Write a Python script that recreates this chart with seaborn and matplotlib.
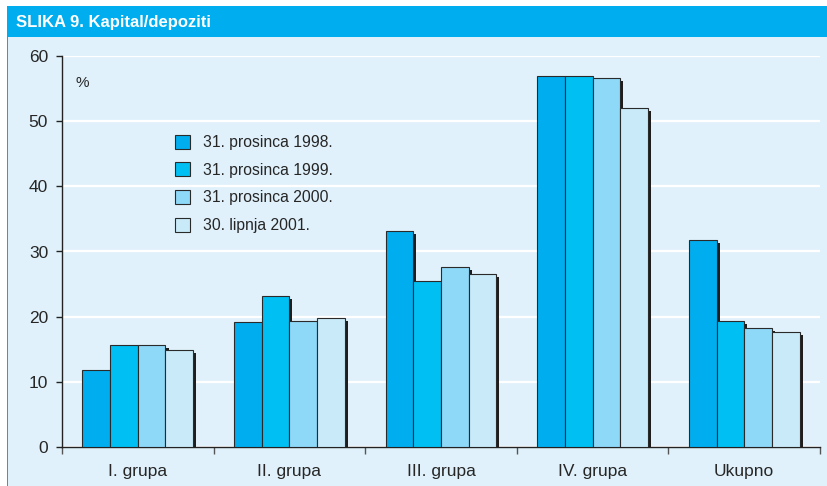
import pandas as pd
import seaborn as sns
import matplotlib.pyplot as plt
import matplotlib.patheffects as pe
from matplotlib.patches import Rectangle

# Data
groups = ['I. grupa', 'II. grupa', 'III. grupa', 'IV. grupa', 'Ukupno']
periods = ['31. prosinca 1998.', '31. prosinca 1999.', '31. prosinca 2000.', '30. lipnja 2001.']
v1998 = [11.8, 19.2, 33.2, 56.9, 31.8]
v1999 = [15.6, 23.2, 25.5, 56.9, 19.4]
v2000 = [15.7, 19.4, 27.6, 56.7, 18.3]
v2001 = [14.9, 19.8, 26.5, 52.0, 17.6]
colors = ['#00aeef', '#00c0f3', '#8ed8f8', '#c8eaf9']

df = pd.DataFrame({
    'grupa': groups * 4,
    'period': [p for p in periods for _ in groups],
    'value': v1998 + v1999 + v2000 + v2001,
})

bg = '#e0f1fb'
sns.set_style('white')
plt.rcParams['font.family'] = ['Liberation Sans', 'DejaVu Sans']

fig = plt.figure(figsize=(8.28, 4.86), dpi=100, facecolor='white')
# panel background + title bar
fig.patches.append(Rectangle((7 / 828, 0), 1, 1 - 37 / 486, transform=fig.transFigure,
                             facecolor=bg, edgecolor='none', zorder=-2))
fig.patches.append(Rectangle((7 / 828, 0), 0.0015, 1 - 37 / 486, transform=fig.transFigure,
                             facecolor='#00aeef', edgecolor='none', zorder=-2))
fig.patches.append(Rectangle((7 / 828, 1 - 37 / 486), 1, 31 / 486, transform=fig.transFigure,
                             facecolor='#00aeef', edgecolor='none', zorder=-2))
fig.text(16 / 828, 1 - 22 / 486, 'SLIKA 9. Kapital/depoziti', color='white',
         fontsize=12, fontweight='bold', va='center', ha='left')

ax = fig.add_axes([62 / 828, 1 - 447 / 486, 758 / 828, 391 / 486])
ax.set_facecolor(bg)

sns.barplot(data=df, x='grupa', y='value', hue='period', hue_order=periods,
            palette=colors, width=0.73, gap=0, saturation=1,
            edgecolor='#2a2a2a', linewidth=0.8, ax=ax, zorder=3)

# legend first, so the handles don't pick up the bar shadows
handles, labels = ax.get_legend_handles_labels()
ax.legend(handles, labels, loc='upper left', bbox_to_anchor=(0.13, 0.835), frameon=False,
          fontsize=11.3, handlelength=1.0, handleheight=1.0, labelspacing=0.78, handletextpad=0.8)

for bar in ax.patches:
    bar.set_path_effects([pe.SimplePatchShadow(offset=(2.2, -2.2), shadow_rgbFace='#1e1e1e', alpha=1),
                          pe.Normal()])

ax.set_ylim(0, 60)
ax.set_xlim(-0.5, 4.5)
ax.set_yticks(range(0, 61, 10))
ax.yaxis.grid(True, color='white', linewidth=1.6, zorder=0)
ax.set_axisbelow(True)
ax.set_xlabel('')
ax.set_ylabel('')

for s in ['top', 'right']:
    ax.spines[s].set_visible(False)
for s in ['left', 'bottom']:
    ax.spines[s].set_color('#222222')
    ax.spines[s].set_linewidth(1.0)

ax.tick_params(axis='y', direction='out', length=4, width=1, color='#222222',
               labelsize=12.5, pad=6, left=True)
ax.set_xticks([i + 0.5 for i in range(-1, 5)], minor=True)
ax.set_xticks(range(len(groups)))
ax.set_xticklabels(groups)
ax.tick_params(axis='x', which='major', length=0, labelsize=12.5, pad=12)
ax.tick_params(axis='x', which='minor', direction='out', length=5, width=1, color='#555555', bottom=True)

ax.text(0.0175, 0.93, '%', transform=ax.transAxes, fontsize=11, va='center', ha='left')

fig.savefig('out.png', dpi=100, facecolor=fig.get_facecolor())
